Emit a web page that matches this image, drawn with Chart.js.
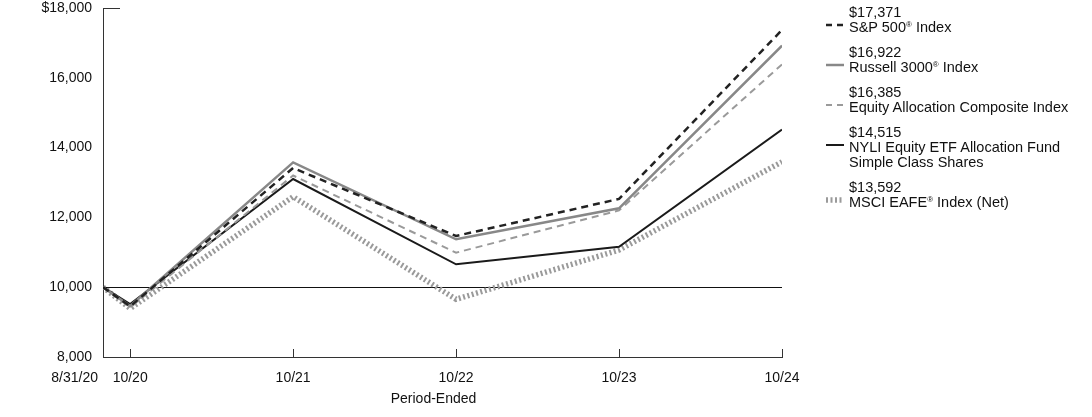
<!DOCTYPE html>
<html>
<head>
<meta charset="utf-8">
<script src="https://cdn.jsdelivr.net/npm/chart.js@4/dist/chart.umd.min.js"></script>
<style>
    body { margin: 0; background: #fff; }
    #wrap { position: relative; width: 1092px; height: 417px; font-family: "Liberation Sans", Arial, sans-serif; }
    #legenda { position: absolute; left: 849px; top: 5px; font-size: 14.5px; line-height: 15px; color: #111; }
    .item { position: relative; margin-bottom: 10px; white-space: nowrap; }
    .item svg { position: absolute; left: -24px; top: 16px; }
    sup { font-size: 8px; line-height: 0; vertical-align: 5px; }
</style>
</head>
<body>
<div id="wrap">
    <canvas id="grafico" width="1092" height="417"></canvas>
    <div id="legenda"></div>
</div>
<script>
// Dados (valor de uma aplicação de $10.000)
const mesesX = [0, 2, 14, 26, 38, 50];
const rotulosX = ['8/31/20', '10/20', '10/21', '10/22', '10/23', '10/24'];
const ticksY = [8000, 10000, 12000, 14000, 16000, 18000];

const sp500 = [10000, 9450, 13415, 11467, 12530, 17371];
const russell3000 = [10000, 9460, 13576, 11372, 12261, 16922];
const compositeIndex = [10000, 9420, 13200, 10989, 12200, 16385];
const nyliFund = [10000, 9519, 13100, 10656, 11160, 14515];
const msciEafe = [10000, 9390, 12593, 9653, 11066, 13592];

const nomes = [
    'S&P 500<sup>®</sup> Index',
    'Russell 3000<sup>®</sup> Index',
    'Equity Allocation Composite Index',
    'NYLI Equity ETF Allocation Fund<br>Simple Class Shares',
    'MSCI EAFE<sup>®</sup> Index (Net)',
];
const valoresFinais = ['$17,371', '$16,922', '$16,385', '$14,515', '$13,592'];

const estilos = [
    { cor: '#222', largura: 2.5, traco: [7, 5] },
    { cor: '#888', largura: 2.5, traco: [] },
    { cor: '#9a9a9a', largura: 2, traco: [7, 5] },
    { cor: '#1a1a1a', largura: 2, traco: [] },
    { cor: '#9a9a9a', largura: 5.5, traco: [2, 2.5] },
];
const series = [sp500, russell3000, compositeIndex, nyliFund, msciEafe];

const fonte = '14px "Liberation Sans", Arial, sans-serif';

// Plugin para os detalhes do eixo que o Chart.js não desenha sozinho
const detalhesEixos = {
    id: 'detalhesEixos',
    afterDraw(chart) {
        const { ctx, chartArea, scales } = chart;
        const x = scales.x;
        const y = scales.y;
        ctx.save();
        ctx.strokeStyle = '#333';
        ctx.lineWidth = 1;
        // tracinho no topo do eixo Y
        const yTopo = Math.round(y.getPixelForValue(18000)) + 0.5;
        ctx.beginPath();
        ctx.moveTo(chartArea.left, yTopo);
        ctx.lineTo(chartArea.left + 17, yTopo);
        ctx.stroke();
        // marcas do eixo X (para dentro)
        mesesX.forEach((m, i) => {
            if (i === 0) return;
            const px = Math.round(x.getPixelForValue(m)) + 0.5;
            ctx.beginPath();
            ctx.moveTo(px, chartArea.bottom);
            ctx.lineTo(px, chartArea.bottom - 8);
            ctx.stroke();
        });
        // rótulos do eixo X
        ctx.fillStyle = '#111';
        ctx.font = fonte;
        ctx.textBaseline = 'middle';
        mesesX.forEach((m, i) => {
            const px = x.getPixelForValue(m);
            if (i === 0) {
                ctx.textAlign = 'right';
                ctx.fillText(rotulosX[i], px - 5, chartArea.bottom + 21);
            } else {
                ctx.textAlign = 'center';
                ctx.fillText(rotulosX[i], px, chartArea.bottom + 21);
            }
        });
        ctx.textAlign = 'center';
        ctx.fillText('Period-Ended', (chartArea.left + chartArea.right) / 2 - 9, chartArea.bottom + 42);
        ctx.restore();
    },
};

function montarLegenda() {
    const legenda = document.getElementById('legenda');
    nomes.forEach((nome, i) => {
        const e = estilos[i];
        const item = document.createElement('div');
        item.className = 'item';
        item.innerHTML = `
            <svg width="20" height="8"><line x1="1" y1="4" x2="19" y2="4" stroke="${e.cor}"
                stroke-width="${e.largura}" stroke-dasharray="${e.traco.length ? (i === 4 ? '2 2.5' : '6 5') : 'none'}"/></svg>
            <div>${valoresFinais[i]}</div>
            <div>${nome}</div>`;
        legenda.appendChild(item);
    });
}

function criarGrafico() {
    const ctx = document.getElementById('grafico').getContext('2d');
    const datasets = series.map((s, i) => ({
        label: nomes[i],
        data: s.map((v, j) => ({ x: mesesX[j], y: v })),
        borderColor: estilos[i].cor,
        borderWidth: estilos[i].largura,
        borderDash: estilos[i].traco,
        pointRadius: 0,
        tension: 0,
        fill: false,
    }));

    new Chart(ctx, {
        type: 'line',
        data: { datasets },
        options: {
            responsive: false,
            animation: false,
            layout: { padding: { top: 8, right: 310, left: 0, bottom: 0 } },
            plugins: { legend: { display: false }, tooltip: { enabled: false } },
            scales: {
                x: {
                    type: 'linear',
                    min: 0,
                    max: 50,
                    ticks: { display: false },
                    grid: { drawOnChartArea: false, drawTicks: false },
                    border: { display: true, color: '#333', width: 1 },
                    afterFit: (s) => { s.height = 60; s.paddingLeft = 0; s.paddingRight = 0; },
                },
                y: {
                    min: 8000,
                    max: 18000,
                    afterBuildTicks: (s) => { s.ticks = ticksY.map(v => ({ value: v })); },
                    ticks: {
                        padding: 11,
                        color: '#111',
                        font: { family: '"Liberation Sans", Arial, sans-serif', size: 14 },
                        callback: (v) => (v === 18000 ? '$18,000' : v.toLocaleString('en-US')),
                    },
                    grid: {
                        drawTicks: false,
                        color: (c) => (c.tick && c.tick.value === 10000 ? '#111' : 'rgba(0,0,0,0)'),
                        lineWidth: 1,
                    },
                    border: { display: true, color: '#333', width: 1 },
                    afterFit: (s) => { s.width = 103; s.paddingTop = 0; s.paddingBottom = 0; },
                },
            },
        },
        plugins: [detalhesEixos],
    });
}

montarLegenda();
criarGrafico();
</script>
</body>
</html>
